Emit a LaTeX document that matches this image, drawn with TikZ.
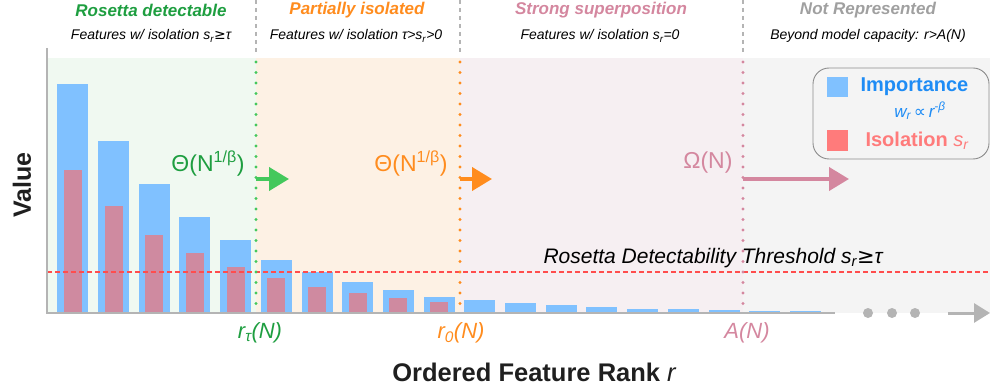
\documentclass[tikz,border=0pt]{standalone}
\usepackage{fontspec}
\setmainfont{Liberation Sans}
\newfontfamily\symf{DejaVu Sans}
\usetikzlibrary{arrows.meta}

\definecolor{bggreen}{HTML}{F0F9F1}
\definecolor{bgorange}{HTML}{FDF1E4}
\definecolor{bgpink}{HTML}{F6EFF2}
\definecolor{bggray}{HTML}{F4F4F4}
\definecolor{impblue}{HTML}{80C1FF}
\definecolor{isopink}{HTML}{CF8AA0}
\definecolor{txtgreen}{HTML}{1E9E40}
\definecolor{arrgreen}{HTML}{44C85C}
\definecolor{txtorange}{HTML}{FF8C1E}
\definecolor{txtpink}{HTML}{D4879F}
\definecolor{txtgray}{HTML}{A0A0A0}
\definecolor{axisgray}{HTML}{B4B4B4}
\definecolor{legblue}{HTML}{1E8CF5}
\definecolor{legred}{HTML}{FF7B7B}
\definecolor{thresh}{HTML}{FF4D4D}

\tikzset{
  regiontitle/.style={font=\fontsize{17}{19}\selectfont\bfseries\itshape, anchor=center},
  regionsub/.style={font=\fontsize{14}{16}\selectfont\itshape, text=black, anchor=center},
  separator/.style={draw=axisgray, line width=1.3pt, dash pattern=on 4pt off 4pt},
  boundary/.style={line width=3.4pt, line cap=round, dash pattern=on 0pt off 10.5pt},
  growth/.style={line width=4pt, -{Triangle[length=20pt,width=23pt]}},
  bound/.style={font=\fontsize{23}{26}\selectfont, anchor=east},
  ranklabel/.style={font=\fontsize{22}{24}\selectfont\itshape, anchor=center},
  axisline/.style={draw=axisgray, line width=2.6pt},
}

\begin{document}
\begin{tikzpicture}[x=1pt,y=-1pt]
\useasboundingbox (0,0) rectangle (990,390);

% shaded regions
\fill[bggreen]  (47,58) rectangle (256,313);
\fill[bgorange] (256,58) rectangle (460,313);
\fill[bgpink]   (460,58) rectangle (743,313);
\fill[bggray]   (743,58) rectangle (990,313);

% importance bars
\foreach \i/\t in {0/84,1/141,2/184,3/217,4/240,5/260,6/272,7/282,8/290,9/297,
                   10/300,11/303,12/305,13/307,14/309,15/309,16/310,17/311,18/311}{
  \fill[impblue] ({57.3+\i*40.7},\t) rectangle ({88.3+\i*40.7},313);
}
% isolation bars
\foreach \i/\t in {0/170,1/206,2/235,3/253,4/267,5/278,6/287,7/293,8/298,9/302}{
  \fill[isopink] ({63.8+\i*40.7},\t) rectangle ({81.8+\i*40.7},313);
}

% threshold
\coordinate (thL) at (47,272);
\coordinate (thR) at (990,272);
\draw[thresh, line width=1.1pt, dash pattern=on 5pt off 3pt] (thL) -- (thR);
\node (thlabel) [font=\fontsize{21}{23}\selectfont\itshape, anchor=center] at (713,258)
  {Rosetta Detectability Threshold s\textsubscript{r}{\symf ≥}τ};

% axes
\coordinate (origin) at (47,313);
\coordinate (ytop) at (47,48);
\coordinate (xend) at (835,313);
\draw[axisline] (ytop) -- (origin) -- (xend);
\foreach \x [count=\k] in {868,892,915}{
  \fill[axisgray] (\x,313) circle (5pt);
}
\coordinate (xa) at (948,313);
\coordinate (xb) at (990,313);
\draw[axisline, line width=3pt, -{Triangle[length=16pt,width=19pt]}] (xa) -- (xb);

% header separators
\foreach \x/\n in {256/a,460/b,743/c}{
  \coordinate (s\n top) at (\x,0);
  \coordinate (s\n bot) at (\x,55);
  \draw[separator] (s\n top) -- (s\n bot);
}

% region boundaries
\coordinate (bg1) at (256,62);  \coordinate (bg2) at (256,313);
\coordinate (bo1) at (460,62);  \coordinate (bo2) at (460,313);
\coordinate (bp1) at (743,62);  \coordinate (bp2) at (743,313);
\draw[boundary, arrgreen] (bg1) -- (bg2);
\draw[boundary, txtorange] (bo1) -- (bo2);
\draw[boundary, txtpink] (bp1) -- (bp2);

% growth arrows
\coordinate (ga) at (256,179); \coordinate (gb) at (289,179);
\coordinate (oa) at (460,179); \coordinate (ob) at (492,179);
\coordinate (pa) at (743,179); \coordinate (pb) at (849,179);
\draw[growth, arrgreen] (ga) -- (gb);
\draw[growth, txtorange] (oa) -- (ob);
\draw[growth, txtpink] (pa) -- (pb);

\node (bgreen) [bound, text=txtgreen] at (248,164) {Θ(N\textsuperscript{1/β})};
\node (borange) [bound, text=txtorange] at (451,164) {Θ(N\textsuperscript{1/β})};
\node (bpink) [bound, text=txtpink] at (736,163) {Ω(N)};

% header texts
\node (t1) [regiontitle, text=txtgreen] at (151,10) {Rosetta detectable};
\node (t2) [regiontitle, text=txtorange] at (357,10) {Partially isolated};
\node (t3) [regiontitle, text=txtpink] at (601,10) {Strong superposition};
\node (t4) [regiontitle, text=txtgray] at (868,10) {Not Represented};
\node (u1) [regionsub] at (151,36) {Features w/ isolation s\textsubscript{r}{\symf ≥}τ};
\node (u2) [regionsub] at (356,36) {Features w/ isolation τ>s\textsubscript{r}>0};
\node (u3) [regionsub] at (600,36) {Features w/ isolation s\textsubscript{r}=0};
\node (u4) [regionsub] at (868,36) {Beyond model capacity: r>A(N)};

% rank labels
\node (rtau) [ranklabel, text=txtgreen] at (260,333) {r\textsubscript{τ}(N)};
\node (rzero) [ranklabel, text=txtorange] at (461,333) {r\textsubscript{0}(N)};
\node (an) [ranklabel, text=txtpink] at (747,333) {A(N)};

% axis titles
\node (xlabel) [font=\fontsize{25.5}{28}\selectfont\bfseries, text=black!88] at (534,372)
  {Ordered Feature Rank {\mdseries\itshape r}};
\node (ylabel) [font=\fontsize{25}{27}\selectfont\bfseries, text=black!88, rotate=90] at (22,185) {Value};

% legend
\draw[draw=black!45, fill=bggray, line width=0.9pt, rounded corners=16pt] (813,68) rectangle (989,159);
\fill[impblue] (827,77) rectangle (848,97);
\fill[legred] (827,130) rectangle (848,151);
\node (limp) [font=\fontsize{20}{22}\selectfont\bfseries, text=legblue, anchor=west] at (857,87) {Importance};
\node (lw) [font=\fontsize{17}{19}\selectfont\itshape, text=legblue] at (920,111)
  {w\textsubscript{r}\,{\symf\upshape ∝}\,r\textsuperscript{-β}};
\node (liso) [font=\fontsize{20}{22}\selectfont\bfseries, text=legred, anchor=west] at (862,141)
  {Isolation {\mdseries\itshape s\textsubscript{r}}};
\end{tikzpicture}
\end{document}
